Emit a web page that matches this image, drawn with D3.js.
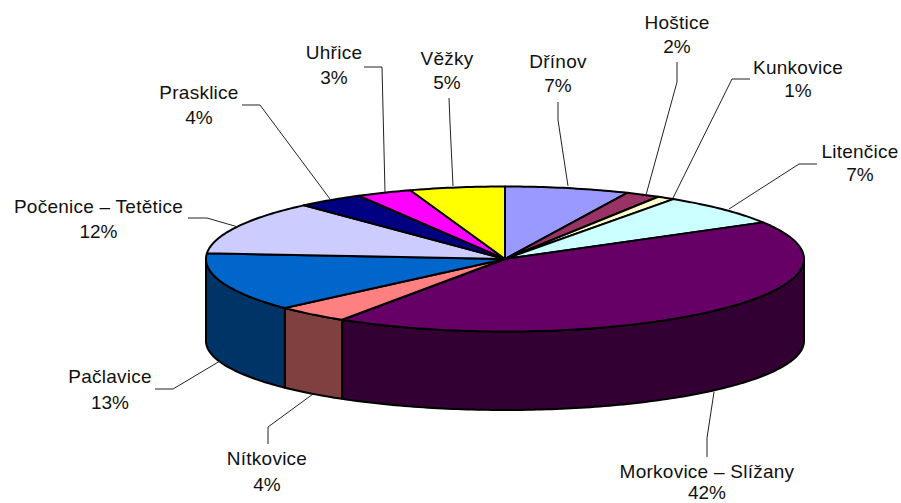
<!DOCTYPE html>
<html>
<head>
<meta charset="utf-8">
<script src="https://cdn.jsdelivr.net/npm/d3@7"></script>
<style>
  html, body { margin: 0; padding: 0; background: #fff; }
  svg { display: block; }
  text { font-family: "Liberation Sans", Arial, sans-serif; font-size: 19px; fill: #111; text-anchor: middle; }
</style>
</head>
<body>
<script>
// data, clockwise from 12 o'clock
const names = ['Dřínov', 'Hoštice', 'Kunkovice', 'Litenčice', 'Morkovice – Slížany', 'Nítkovice',
  'Pačlavice', 'Počenice – Tetětice', 'Prasklice', 'Uhřice', 'Věžky']
const percentLabels = ['7%', '2%', '1%', '7%', '42%', '4%', '13%', '12%', '4%', '3%', '5%']
const shares = [6.7, 1.87, 0.95, 7.05, 42.6, 4.0, 13.1, 12.0, 3.6, 3.0, 5.13]

const topColors = ['#9999ff', '#993366', '#ffffcc', '#ccffff', '#660066', '#ff8080',
  '#0066cc', '#ccccff', '#000080', '#ff00ff', '#ffff00']
const sideColors = topColors.map((c) => {
  const rgb = d3.rgb(c)
  return d3.rgb(rgb.r / 2, rgb.g / 2, rgb.b / 2).formatHex()
})

// label placement: centre x, baselines of both lines, leader polyline
const labelLayout = [
  {x: 558, y1: 68, y2: 92, leader: [[558, 102], [558, 120], [568, 186]]},
  {x: 677, y1: 29, y2: 53, leader: [[677, 62], [677, 82], [646, 195]]},
  {x: 798, y1: 74, y2: 97, leader: [[750, 79], [732, 79], [673, 198]]},
  {x: 860, y1: 158, y2: 181, leader: [[817, 164], [799, 164], [729, 209]]},
  {x: 707, y1: 478, y2: 499, leader: [[707, 457], [707, 438], [714, 392]]},
  {x: 267, y1: 465, y2: 491, leader: [[268, 444], [268, 427], [313, 394]]},
  {x: 110, y1: 383, y2: 409, leader: [[155, 389], [173, 389], [220, 361]]},
  {x: 98.5, y1: 213, y2: 238, leader: [[188, 218], [207, 218], [238, 227]]},
  {x: 199, y1: 99, y2: 124, leader: [[242, 105], [260, 105], [330, 199]]},
  {x: 334, y1: 59, y2: 84, leader: [[364, 67], [382, 67], [385, 192]]},
  {x: 447, y1: 65, y2: 89, leader: [[449, 98], [450, 123], [453, 186]]}
]

const width = 901
const height = 503

const svg = d3.select('body')
  .append('svg')
  .attr('width', width)
  .attr('height', height)

// unit circle -> screen, the base ellipse is a little flatter than the top one
const x = d3.scaleLinear().domain([-1, 1]).range([206, 804])
const yTop = d3.scaleLinear().domain([-1, 1]).range([186.5, 331.5])
const yBase = d3.scaleLinear().domain([-1, 1]).range([272, 410])

const pie = d3.pie().sort(null).value((d) => d)
const arcs = pie(shares)

const line = d3.line()
const rim = (a, yScale) => [x(Math.sin(a)), yScale(-Math.cos(a))]
const sweep = (a0, a1, yScale) => {
  const steps = Math.max(2, Math.ceil((a1 - a0) * 60))
  return d3.range(steps + 1).map((i) => rim(a0 + (a1 - a0) * i / steps, yScale))
}

// side walls, only the front half of the drum shows
const walls = svg.append('g')
arcs.forEach((d, i) => {
  const a0 = Math.max(d.startAngle, Math.PI / 2)
  const a1 = Math.min(d.endAngle, Math.PI * 3 / 2)
  if (a1 <= a0) return
  const pts = sweep(a0, a1, yTop).concat(sweep(a0, a1, yBase).reverse())
  walls.append('path')
    .attr('d', line(pts) + 'Z')
    .attr('fill', sideColors[i])
    .attr('stroke', '#000')
    .attr('stroke-width', 2)
    .attr('stroke-linejoin', 'round')
})

// top face
const slices = svg.append('g')
const apex = [x(0), yTop(0)]
arcs.forEach((d, i) => {
  slices.append('path')
    .attr('d', line([apex].concat(sweep(d.startAngle, d.endAngle, yTop))) + 'Z')
    .attr('fill', topColors[i])
    .attr('stroke', '#000')
    .attr('stroke-width', 2)
    .attr('stroke-linejoin', 'round')
})

// leaders and labels
const labels = svg.append('g')
labelLayout.forEach((l, i) => {
  labels.append('path')
    .attr('d', line(l.leader))
    .attr('fill', 'none')
    .attr('stroke', '#222')
    .attr('stroke-width', 1)
  labels.append('text')
    .attr('x', l.x)
    .attr('y', l.y1)
    .attr('letter-spacing', 0.25)
    .text(names[i])
  labels.append('text')
    .attr('x', l.x)
    .attr('y', l.y2)
    .text(percentLabels[i])
})
</script>
</body>
</html>
